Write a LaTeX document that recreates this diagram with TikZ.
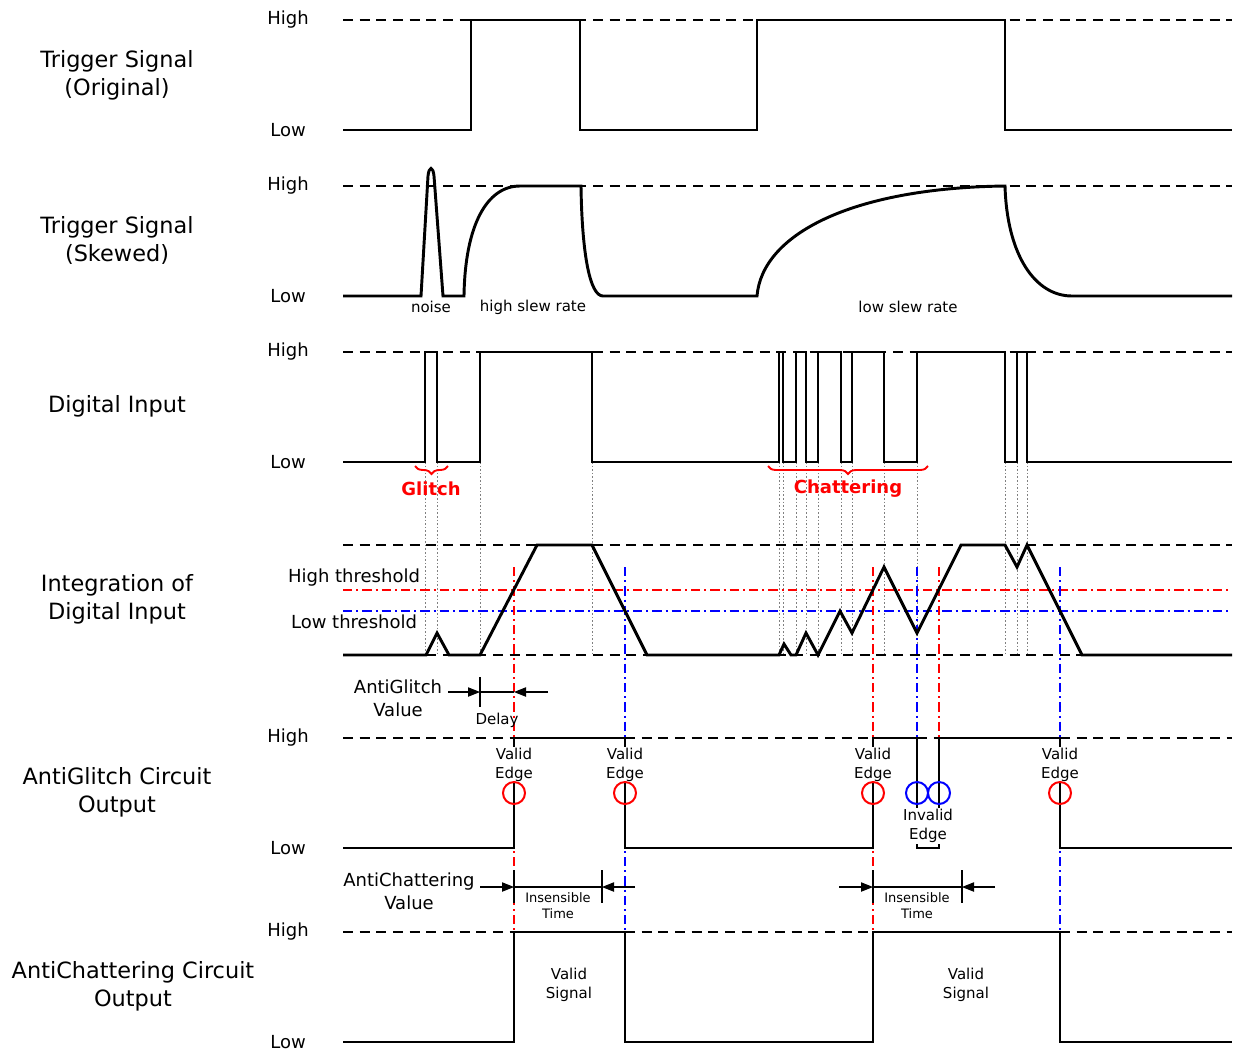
\documentclass[tikz,border=0pt]{standalone}
\usepackage{fontspec}
\setmainfont{DejaVu Sans}
\usetikzlibrary{arrows.meta, decorations.pathreplacing}

\tikzset{
    sig/.style={line width=2.2pt, line join=miter},
    lvl/.style={line width=1pt, dash pattern=on 7.5pt off 5pt},
    hthr/.style={red, line width=0.9pt, dash pattern=on 7pt off 3pt on 1.5pt off 3pt},
    lthr/.style={blue, line width=0.9pt, dash pattern=on 7pt off 3pt on 1.5pt off 3pt},
    guide/.style={gray, line width=0.7pt, dash pattern=on 1.2pt off 1.5pt},
    rowlabel/.style={align=center, font=\fontsize{16.8}{21}\selectfont},
    lvllabel/.style={font=\fontsize{13.5}{16}\selectfont},
    dimlabel/.style={align=center, font=\fontsize{13.5}{17.25}\selectfont},
    note/.style={align=center, inner sep=1pt, font=\fontsize{11.25}{14.25}\selectfont},
    tinynote/.style={align=center, font=\fontsize{9.75}{12}\selectfont},
    warn/.style={red, font=\bfseries\fontsize{13.5}{16}\selectfont},
    redbrace/.style={red, line width=1.4pt, decorate, decoration={brace, mirror, amplitude=6pt}},
    dimarrow/.style={-{Triangle[length=9pt,width=7pt]}, line width=0.8pt},
    ring/.style={circle, line width=1.5pt, minimum size=16.5pt, inner sep=0pt},
}

\begin{document}
\begin{tikzpicture}[x=0.75pt, y=-0.75pt]
    \useasboundingbox (0,0) rectangle (1234,1051);

    % guides from the digital input edges
    \foreach \x in {425,437,480,592,779,783,796,806,818,841,852,884,917,1005,1017,1027}
        \draw[guide] (\x,462) -- (\x,655);

    % levels and thresholds
    \foreach \y in {20,186,352,545,655}
        \draw[lvl] (343,\y) -- (1232,\y);
    \foreach \a/\b in {343/514,625/873,917/939,1060/1232}
        \draw[lvl] (\a,738) -- (\b,738);
    \foreach \a/\b in {343/514,625/873,1060/1232}
        \draw[lvl] (\a,932) -- (\b,932);
    \draw[hthr] (343,590) -- (1232,590);
    \draw[lthr] (343,611) -- (1232,611);

    % crossing markers
    \foreach \x in {514,873} \draw[hthr] (\x,567) -- (\x,1042);
    \foreach \x in {625,1060} \draw[lthr] (\x,567) -- (\x,1042);
    \draw[lthr] (917,567) -- (917,738);
    \draw[hthr] (939,567) -- (939,738);

    % waveforms
    \draw[sig] (343,130) -- (471,130) -- (471,20) -- (580,20) -- (580,130) -- (757,130)
        -- (757,20) -- (1005,20) -- (1005,130) -- (1232,130);
    \draw[sig] (343,296) -- (421,296) -- (428,176) .. controls (429,166) and (433,166) .. (434,176)
        -- (443,296) -- (464,296) .. controls (465,225) and (487,186) .. (520,186)
        -- (581,186) .. controls (582,255) and (590,296) .. (603,296)
        -- (757,296) .. controls (762,235) and (850,188) .. (1005,186)
        .. controls (1007,255) and (1035,296) .. (1072,296) -- (1232,296);
    \draw[sig] (343,462) -- (425,462) -- (425,352) -- (437,352) -- (437,462) -- (480,462)
        -- (480,352) -- (592,352) -- (592,462) -- (779,462) -- (779,352) -- (783,352)
        -- (783,462) -- (796,462) -- (796,352) -- (806,352) -- (806,462) -- (818,462)
        -- (818,352) -- (841,352) -- (841,462) -- (852,462) -- (852,352) -- (884,352)
        -- (884,462) -- (917,462) -- (917,352) -- (1005,352) -- (1005,462) -- (1017,462)
        -- (1017,352) -- (1027,352) -- (1027,462) -- (1232,462);
    \draw[sig] (343,655) -- (426,655) -- (437,633) -- (449,655) -- (480,655) -- (537,545)
        -- (592,545) -- (647,655) -- (779,655) -- (784,644) -- (791,655) -- (796,655)
        -- (806,633) -- (818,655) -- (840,611) -- (852,633) -- (884,567) -- (917,633)
        -- (961,545) -- (1005,545) -- (1017,567) -- (1027,545) -- (1082,655) -- (1232,655);

    % row labels
    \node[rowlabel] (trigOrig) at (117,75) {Trigger Signal\\(Original)};
    \node[rowlabel] (trigSkew) at (117,240) {Trigger Signal\\(Skewed)};
    \node[rowlabel] (digIn) at (117,406) {Digital Input};
    \node[rowlabel] (integ) at (117,599) {Integration of\\Digital Input};
    \node[rowlabel] (agOut) at (117,792) {AntiGlitch Circuit\\Output};
    \node[rowlabel] (acOut) at (133,986) {AntiChattering Circuit\\Output};

    \foreach \y/\n in {20/1,186/2,352/3,738/4,932/5}
        \node[lvllabel] (high\n) at (288,\y) {High};
    \foreach \y/\n in {130/1,296/2,462/3,848/4,1042/5}
        \node[lvllabel] (low\n) at (288,\y) {Low};
    \node[lvllabel] (hiThr) at (354,578) {High threshold};
    \node[lvllabel] (loThr) at (354,622) {Low threshold};

    % skewed signal notes
    \node[note] (noise) at (431,307) {noise};
    \node[note] (hiSlew) at (533,307) {high slew rate};
    \node[note] (loSlew) at (908,307) {low slew rate};

    % braces
    \draw[redbrace] (415,466) -- (448,466);
    \draw[redbrace] (768,466) -- (928,466);
    \node[warn] (glitch) at (431,489) {Glitch};
    \node[warn] (chatter) at (848,489) {Chattering};

    % antiglitch delay
    \node[dimlabel] (agValue) at (398,698) {AntiGlitch\\Value};
    \coordinate (agFrom) at (448,692);
    \coordinate (agTick) at (480,692);
    \coordinate (agEdge) at (514,692);
    \coordinate (agTo) at (548,692);
    \draw[dimarrow] (agFrom) -- (agTick);
    \draw[line width=0.8pt] (agTick) -- (agEdge);
    \draw[dimarrow] (agTo) -- (agEdge);
    \draw[line width=0.8pt] (480,677) -- (480,707);
    \node[note] (delay) at (497,720) {Delay};

    % antichattering insensible time
    \node[dimlabel] (acValue) at (409,891) {AntiChattering\\Value};
    \foreach \a/\b/\n in {514/602/1,873/962/2} {
        \coordinate (acFrom\n) at (\a-34,887);
        \coordinate (acEdge\n) at (\a,887);
        \coordinate (acTick\n) at (\b,887);
        \coordinate (acTo\n) at (\b+33,887);
        \draw[dimarrow] (acFrom\n) -- (acEdge\n);
        \draw[line width=0.8pt] (acEdge\n) -- (acTick\n);
        \draw[dimarrow] (acTo\n) -- (acTick\n);
        \draw[line width=0.8pt] (\a,870) -- (\a,903);
        \draw[line width=0.8pt] (\b,870) -- (\b,903);
    }
    \node[tinynote] (insens1) at (558,906) {Insensible\\Time};
    \node[tinynote] (insens2) at (917,906) {Insensible\\Time};

    \node[note] (vsig1) at (569,985) {Valid\\Signal};
    \node[note] (vsig2) at (966,985) {Valid\\Signal};

    % circuit outputs
    \draw[sig] (343,848) -- (514,848) -- (514,738) -- (625,738) -- (625,848) -- (873,848)
        -- (873,738) -- (917,738) -- (917,848) -- (939,848) -- (939,738) -- (1060,738)
        -- (1060,848) -- (1232,848);
    \draw[sig] (343,1042) -- (514,1042) -- (514,932) -- (625,932) -- (625,1042) -- (873,1042)
        -- (873,932) -- (1060,932) -- (1060,1042) -- (1232,1042);

    % edges
    \foreach \x/\n in {514/1,625/2,873/3,1060/4} {
        \node[note, fill=white] (valid\n) at (\x,765) {Valid\\Edge};
        \node[ring, draw=red] (vring\n) at (\x,793) {};
    }
    \node[ring, draw=blue] (iring1) at (917,793) {};
    \node[ring, draw=blue] (iring2) at (939,793) {};
    \node[note, fill=white] (invalid) at (928,826) {Invalid\\Edge};
\end{tikzpicture}
\end{document}
